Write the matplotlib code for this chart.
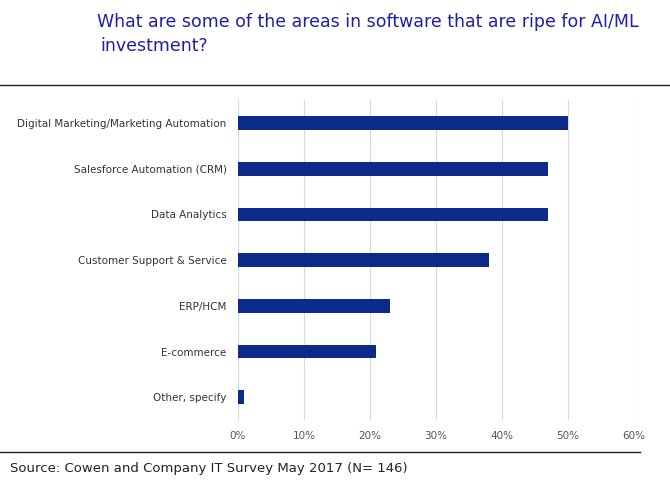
import matplotlib.pyplot as plt
from matplotlib.lines import Line2D

categories = ["Digital Marketing/Marketing Automation", "Salesforce Automation (CRM)",
              "Data Analytics", "Customer Support & Service", "ERP/HCM",
              "E-commerce", "Other, specify"]
values = [50, 47, 47, 38, 23, 21, 1]
ticks = [0, 10, 20, 30, 40, 50, 60]
tick_labels = ["0%", "10%", "20%", "30%", "40%", "50%", "60%"]

fig = plt.figure(figsize=(6.7, 4.84), dpi=100)
ax = fig.add_axes([0.355, 0.132, 0.591, 0.661])

pos = list(range(len(categories)))[::-1]
ax.barh(pos, values, height=0.3, color="#0c2a8a", zorder=3)
ax.set_xlim(0, 60)
ax.set_ylim(-0.5, len(categories) - 0.5)
ax.set_yticks(pos)
ax.set_yticklabels(categories, fontsize=7.5, color="#333333")
ax.set_xticks(ticks)
ax.set_xticklabels(tick_labels, fontsize=7.5, color="#555555")
ax.tick_params(length=0, pad=8)
ax.grid(axis="x", color="#d8d8d8", lw=0.8, zorder=0)
for s in ax.spines.values():
    s.set_visible(False)

fig.text(0.145, 0.955, "What are some of the areas in software that are ripe for AI/ML",
         fontsize=12.5, color="#1f1fa8", va="center")
fig.text(0.15, 0.905, "investment?", fontsize=12.5, color="#1f1fa8", va="center")
fig.add_artist(Line2D([0.0, 1.0], [0.825, 0.825], color="#222222", lw=1))
fig.add_artist(Line2D([0.0, 0.955], [0.066, 0.066], color="#222222", lw=1))
fig.text(0.015, 0.032, "Source: Cowen and Company IT Survey May 2017 (N= 146)",
         fontsize=9.5, color="#222222", va="center")

fig.savefig("out.png", dpi=100)
